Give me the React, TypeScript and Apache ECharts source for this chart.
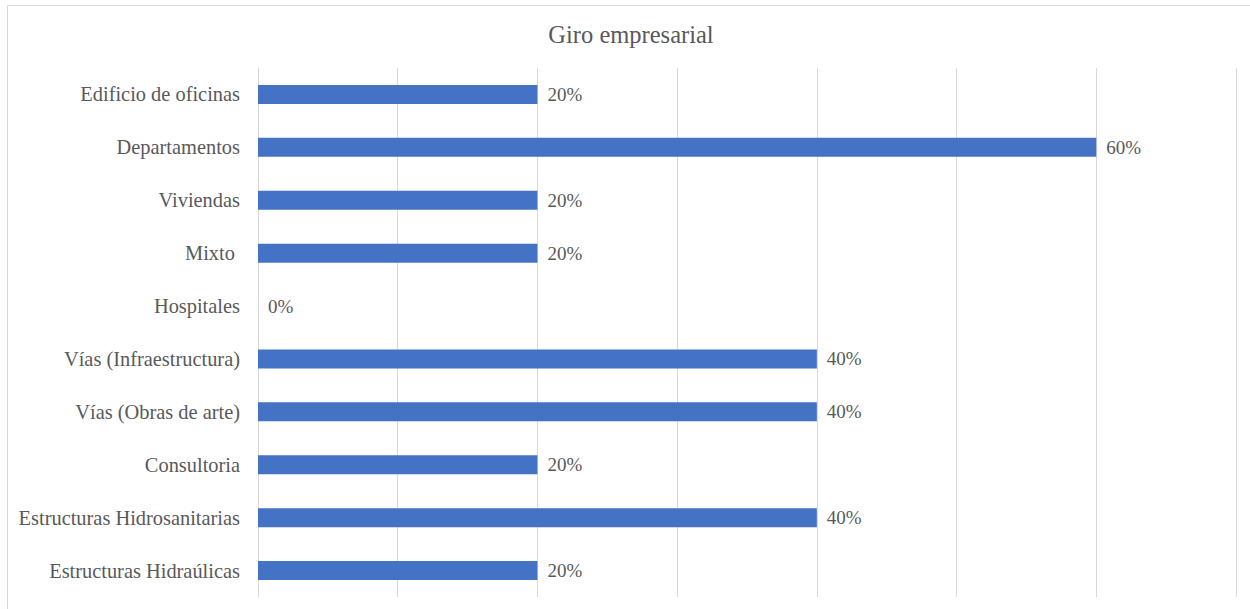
import React, { useEffect, useRef } from "react";
import * as echarts from "echarts";

const categories = [
  "Edificio de oficinas",
  "Departamentos",
  "Viviendas",
  "Mixto ",
  "Hospitales",
  "Vías (Infraestructura)",
  "Vías (Obras de arte)",
  "Consultoria",
  "Estructuras Hidrosanitarias",
  "Estructuras Hidraúlicas",
];
const values = [20, 60, 20, 20, 0, 40, 40, 20, 40, 20];
const chartTitle = "Giro empresarial";

export default function App() {
  const ref = useRef<HTMLDivElement>(null);
  useEffect(() => {
    if (!ref.current) return;
    const chart = echarts.init(ref.current, null, { renderer: "svg" });
    const font = "Liberation Serif";
    const textBase = { fontFamily: font, color: "#595959" };
    chart.setOption({
      animation: false,
      backgroundColor: "#ffffff",
      textStyle: { fontFamily: font },
      title: {
        text: chartTitle,
        left: 626,
        top: 17,
        textAlign: "center",
        textStyle: { ...textBase, fontSize: 24.5, fontWeight: "normal" },
      },
      graphic: [
        {
          type: "line",
          shape: { x1: 7.5, y1: 5.5, x2: 1250, y2: 5.5 },
          style: { stroke: "#d9d9d9", lineWidth: 1 },
          silent: true,
        },
        {
          type: "line",
          shape: { x1: 7.5, y1: 5.5, x2: 7.5, y2: 609 },
          style: { stroke: "#d9d9d9", lineWidth: 1 },
          silent: true,
        },
      ],
      grid: { left: 258, right: 14, top: 68, bottom: 12, containLabel: false },
      xAxis: {
        type: "value",
        min: 0,
        max: 70,
        interval: 10,
        axisLabel: { show: false },
        axisLine: { show: false },
        axisTick: { show: false },
        splitLine: { show: true, lineStyle: { color: "#d9d9d9", width: 1 } },
      },
      yAxis: {
        type: "category",
        data: categories,
        inverse: true,
        axisLine: { show: true, lineStyle: { color: "#d9d9d9" } },
        axisTick: { show: false },
        axisLabel: { ...textBase, fontSize: 20.4, margin: 18 },
      },
      series: [
        {
          type: "bar",
          data: values,
          barWidth: 19,
          itemStyle: { color: "#4472C4" },
          label: {
            show: true,
            position: "right",
            distance: 10,
            formatter: (p: any) => p.value + "%",
            ...textBase,
            fontSize: 19,
          },
        },
      ],
    });
    return () => chart.dispose();
  }, []);
  return (
    <div
      ref={ref}
      style={{ position: "absolute", left: 0, top: 0, width: 1250, height: 609 }}
    />
  );
}
